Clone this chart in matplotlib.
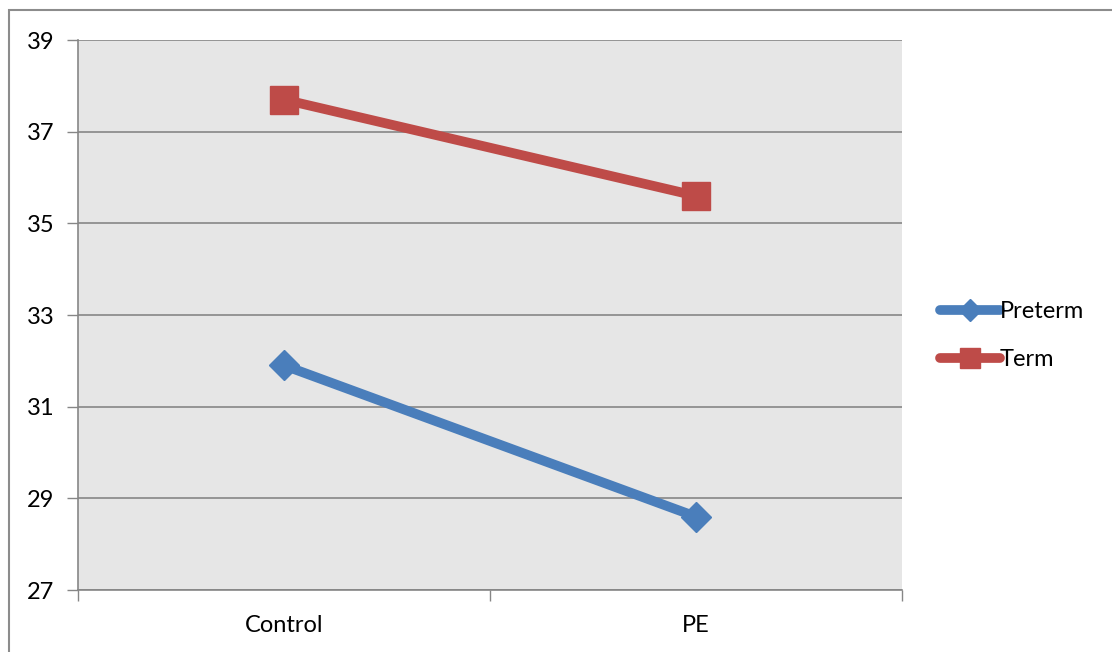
import matplotlib.pyplot as plt
from matplotlib.patches import Rectangle

plt.rcParams['font.family'] = ['Lato', 'DejaVu Sans']

groups = ['Control', 'PE']
preterm = [31.9, 28.6]
term = [37.7, 35.6]
y_ticks = [27, 29, 31, 33, 35, 37, 39]

fig = plt.figure(figsize=(11.12, 6.52), dpi=100)
ax = fig.add_axes([78 / 1112, 1 - 590 / 652, 824 / 1112, 550 / 652])
ax.set_facecolor('#e6e6e6')

# outer chart frame
fig.patches.append(Rectangle((9 / 1112, -0.1), 1.2, 1 - 10 / 652 + 0.1,
                             transform=fig.transFigure, fill=False,
                             edgecolor='#8c8c8c', linewidth=1.5))

x = range(len(groups))
ax.plot(x, preterm, '-D', color='#4a7ebb', linewidth=7, markersize=15,
        label='Preterm', solid_capstyle='round')
ax.plot(x, term, '-s', color='#be4b48', linewidth=7, markersize=20,
        label='Term', solid_capstyle='round')

ax.set_xlim(-0.5, 1.5)
ax.set_ylim(27, 39)
ax.set_yticks(y_ticks)
ax.set_xticks([0, 1])
ax.set_xticklabels(groups)
ax.set_xticks([-0.5, 0.5, 1.5], minor=True)
ax.tick_params(axis='x', which='major', length=0, pad=18, labelsize=17)
ax.tick_params(axis='x', which='minor', length=8, width=1, color='#868686')
ax.tick_params(axis='y', length=8, width=1, color='#868686', pad=9,
               labelsize=17)

ax.grid(axis='y', color='#868686', linewidth=1.2)
ax.set_axisbelow(True)
for side in ['top', 'right']:
    ax.spines[side].set_visible(False)
for side in ['left', 'bottom']:
    ax.spines[side].set_color('#868686')
    ax.spines[side].set_linewidth(1.2)

ax.legend(loc='center left', bbox_to_anchor=(1.046, 0.462), frameon=False,
          fontsize=17, handlelength=2.55, handletextpad=0.0, labelspacing=1.15,
          markerscale=0.75, borderpad=0, borderaxespad=0)

fig.savefig('out.png', dpi=100)
